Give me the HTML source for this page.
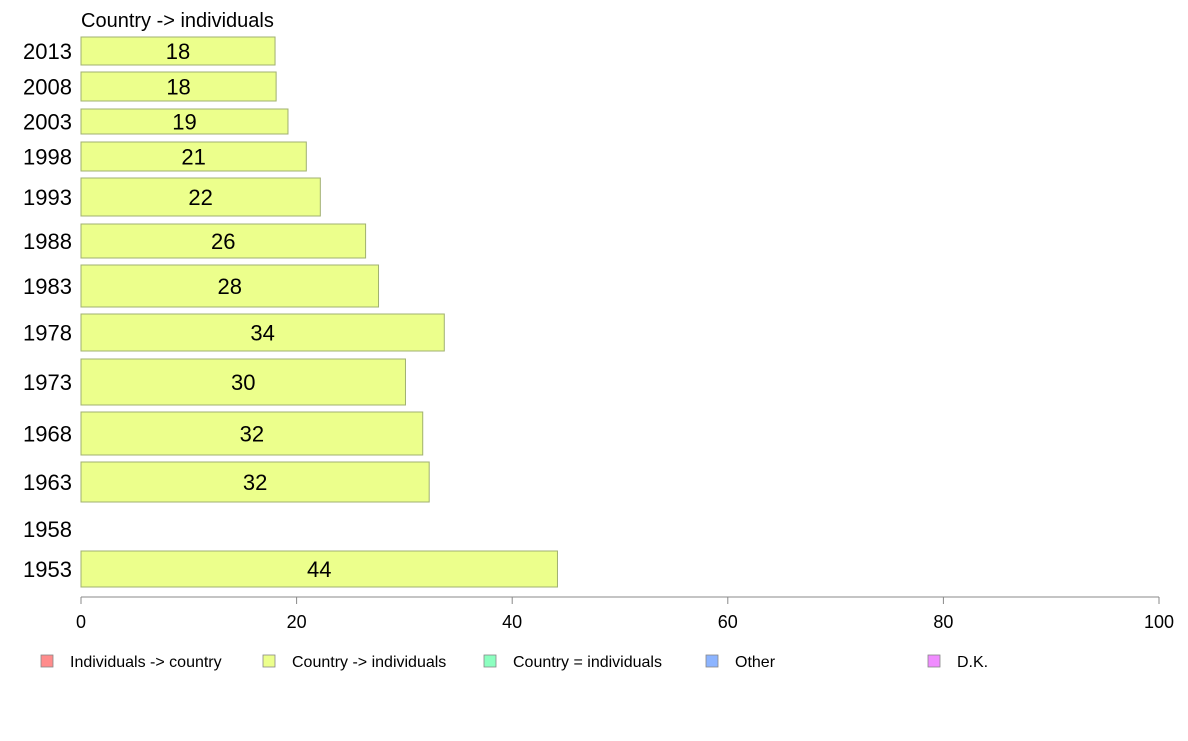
<!DOCTYPE html>
<html><head><meta charset="utf-8"><style>
body{margin:0;background:#fff;font-family:"Liberation Sans",sans-serif;}
svg text{font-family:"Liberation Sans",sans-serif;}
</style></head><body>
<svg id="chart" width="1188" height="736">
<text x="81" y="27" font-size="20">Country -&gt; individuals</text>
<g id="bars"></g>
<g id="axis"></g>
<g id="legend"></g>
</svg>
<script>
const categories=["2013","2008","2003","1998","1993","1988","1983","1978","1973","1968","1963","1958","1953"];
const values=[18,18.1,19.2,20.9,22.2,26.4,27.6,33.7,30.1,31.7,32.3,null,44.2];
const valueLabels=["18","18","19","21","22","26","28","34","30","32","32","","44"];
const tickLabels=["0","20","40","60","80","100"];
const tickValues=[0,20,40,60,80,100];
const legendLabels=["Individuals -> country","Country -> individuals","Country = individuals","Other","D.K."];
// layout (row bands, pixels)
const rowTop=[37,72,109,142,178,224,265,314,359,412,462,512,551];
const rowBot=[65,101,134,171,216,258,307,351,405,455,502,546,587];
const legendColors=["#ff8c8c","#ecff8c","#8cffc0","#8cb4ff","#f08cff"];
const legendX=[41,263,484,706,928];
const NS="http://www.w3.org/2000/svg";
const x=v=>81+v*(1159-81)/100;
function mk(t,a,p){const e=document.createElementNS(NS,t);for(const k in a)e.setAttribute(k,a[k]);p.appendChild(e);return e;}
const bars=document.getElementById('bars');
categories.forEach((c,i)=>{
  const cy=(rowTop[i]+rowBot[i])/2;
  const yl=mk('text',{x:72,y:cy+8,'font-size':22,'text-anchor':'end'},bars);
  yl.textContent=c;
  
  
  if(values[i]==null)return;
  const r=mk('rect',{x:x(0),y:rowTop[i],width:x(values[i])-x(0),height:rowBot[i]-rowTop[i],fill:'#ecff8c',stroke:'#a0b070','stroke-width':1},bars);
  
  
  const t=mk('text',{x:(x(0)+x(values[i]))/2,y:cy+8,'font-size':22,'text-anchor':'middle'},bars);
  t.textContent=valueLabels[i];
  
  
});
const ax=document.getElementById('axis');
const al=mk('line',{x1:x(0),x2:x(100),y1:597,y2:597,stroke:'#888'},ax);


tickValues.forEach((v,i)=>{
  const l=mk('line',{x1:x(v),x2:x(v),y1:597,y2:604,stroke:'#888'},ax);
  
  
  const t=mk('text',{x:x(v),y:628,'font-size':18,'text-anchor':'middle'},ax);
  t.textContent=tickLabels[i];
  
  
});
const lg=document.getElementById('legend');
legendLabels.forEach((s,i)=>{
  const r=mk('rect',{x:legendX[i],y:655,width:12,height:12,fill:legendColors[i],stroke:'#888','stroke-width':0.8},lg);
  
  
  const t=mk('text',{x:legendX[i]+29,y:667,'font-size':16},lg);
  t.textContent=s;
  
  
});
</script>
</body></html>
